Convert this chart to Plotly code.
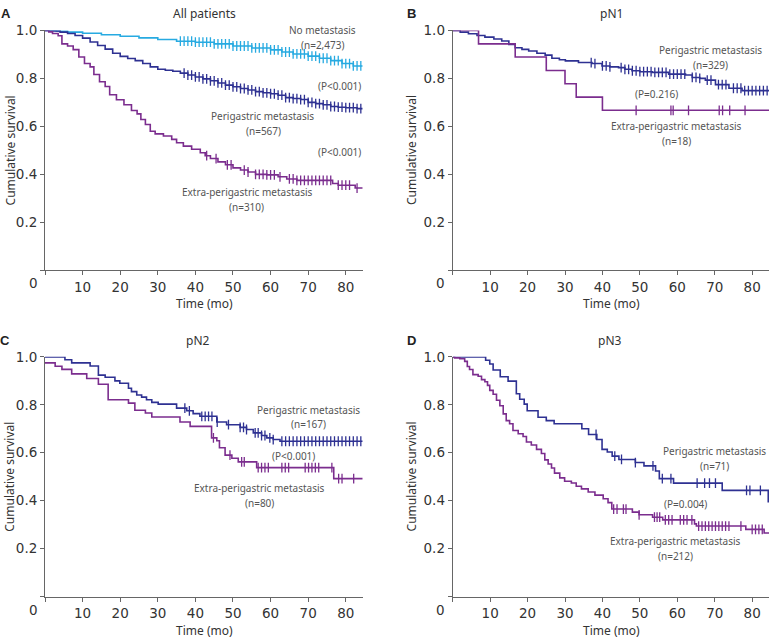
import numpy as np
import plotly.graph_objects as go

W, H = 771, 638
T_END = 84.5

CYAN = "#27AAE1"
NAVY = "#2E3192"
PURPLE = "#7B2D8E"

# ---------------- Panel A: All patients ----------------
A_none_t = [0, 3, 6, 10, 15, 20, 25, 30, 35, 40, 45, 50, 55, 60, 63, 66, 70, 73, 76, 79, 82]
A_none_s = [1.0, 0.997, 0.993, 0.988, 0.982, 0.976, 0.969, 0.962, 0.955, 0.951, 0.944, 0.935,
            0.927, 0.919, 0.91, 0.902, 0.893, 0.884, 0.874, 0.862, 0.852]
A_none_c = list(range(36, 85))

A_peri_t = [0, 2, 4, 6, 8, 10, 12, 14, 16, 18, 20, 22, 24, 26, 28, 30, 32, 34, 36, 38, 40, 42,
            44, 46, 48, 50, 52, 54, 56, 58, 60, 62, 64, 66, 68, 70, 72, 74, 76, 78, 80, 83]
A_peri_s = [1.0, 0.998, 0.993, 0.987, 0.979, 0.968, 0.952, 0.937, 0.922, 0.905, 0.892, 0.883,
            0.874, 0.862, 0.848, 0.838, 0.834, 0.83, 0.822, 0.814, 0.806, 0.798, 0.79, 0.781,
            0.772, 0.765, 0.758, 0.752, 0.745, 0.74, 0.736, 0.73, 0.72, 0.716, 0.712, 0.70,
            0.695, 0.69, 0.683, 0.68, 0.678, 0.674]
A_peri_c = list(range(37, 85))

A_extra_t = [0, 1, 2, 3.5, 4.5, 6, 7.5, 9, 10.5, 12, 13, 14.5, 16, 17.2, 19, 21, 23, 24.5, 25.5,
             26.7, 28, 29.3, 31.5, 33.7, 35, 36.8, 39, 41.3, 42.6, 44, 46, 48, 50, 52, 54, 56,
             59, 62, 64.3, 67, 76.5, 78, 82.5]
A_extra_s = [1.0, 0.994, 0.987, 0.978, 0.944, 0.935, 0.92, 0.889, 0.862, 0.848, 0.816, 0.786,
             0.766, 0.732, 0.711, 0.69, 0.666, 0.652, 0.629, 0.608, 0.58, 0.569, 0.56, 0.546,
             0.532, 0.518, 0.505, 0.49, 0.478, 0.466, 0.452, 0.44, 0.427, 0.418, 0.41, 0.40,
             0.398, 0.39, 0.381, 0.375, 0.362, 0.355, 0.343]
A_extra_c = [43, 45.5, 48.5, 49.5, 53, 54, 56, 57, 58, 59, 60, 61, 62.5, 65, 66, 67, 68, 69, 70,
             71, 72, 73, 74, 75, 76, 78, 79, 80, 81, 83]

# ---------------- Panel B: pN1 ----------------
B_peri_t = [0, 2, 4.2, 6.5, 8.6, 11, 13.1, 15, 16.7, 18.5, 20.3, 22.5, 24.7, 26.5, 28.5, 30.1,
            33.6, 37.2, 39.9, 42, 44.3, 46, 47.9, 50, 53.3, 57.7, 62.2, 64, 66, 67.5, 70.2,
            73.8, 77.3]
B_peri_s = [1.0, 0.993, 0.986, 0.979, 0.972, 0.964, 0.956, 0.942, 0.928, 0.921, 0.914, 0.905,
            0.897, 0.884, 0.878, 0.873, 0.866, 0.862, 0.852, 0.848, 0.845, 0.838, 0.832, 0.828,
            0.825, 0.818, 0.814, 0.804, 0.8, 0.793, 0.774, 0.759, 0.749]
B_peri_c = [37, 38, 40, 41, 42, 45, 46, 47, 48, 49, 50, 51, 52, 53, 54, 55, 56, 57, 58, 59, 60,
            61, 62, 64, 65, 66, 68, 69, 71, 72, 73, 75, 76, 77, 78, 79, 80, 81, 82, 83, 84]

B_extra_t = [0, 6.9, 16.7, 25, 30, 33, 40]
B_extra_s = [1.0, 0.944, 0.889, 0.833, 0.778, 0.722, 0.667]
B_extra_c = [49, 58.3, 58.9, 63, 71.2, 72.1, 74, 78.1]

# ---------------- Panel C: pN2 ----------------
C_peri_t = [0, 5.3, 7.1, 12, 14.2, 16, 18.6, 19.9, 22.2, 23, 24.4, 25.7, 27, 28.4, 30.1, 35,
            37.7, 39.4, 41.2, 45.7, 48.3, 51.9, 53.6, 55.4, 57.6, 59, 60.7, 62.5]
C_peri_s = [1.0, 0.988, 0.975, 0.962, 0.924, 0.915, 0.90, 0.89, 0.869, 0.855, 0.841, 0.832,
            0.821, 0.81, 0.803, 0.786, 0.775, 0.763, 0.752, 0.728, 0.717, 0.706, 0.697, 0.683,
            0.672, 0.662, 0.655, 0.648]
C_peri_c = [37.2, 38.4, 41.7, 42.6, 43.5, 44.4, 45.8, 48.8, 51.9, 52.8, 53.6, 55.9, 56.7, 57.6,
            58.5, 59.8, 60.7, 63, 64, 65, 66, 67, 68, 69, 70, 71, 72, 73, 74, 75, 76, 77, 78,
            79, 80, 81, 82, 83, 84]

C_extra_t = [0, 2.7, 4.5, 7.1, 11.1, 14.2, 16.8, 22.2, 23.9, 26.7, 28.4, 35.9, 38.6, 44.3,
             45.7, 46.4, 47.9, 49.7, 51.4, 56.3, 76.8]
C_extra_s = [0.975, 0.961, 0.948, 0.929, 0.91, 0.886, 0.821, 0.807, 0.777, 0.766, 0.749, 0.728,
             0.71, 0.662, 0.65, 0.621, 0.59, 0.577, 0.562, 0.538, 0.492]
C_extra_c = [44.8, 49.2, 52.3, 53.0, 56.7, 57.6, 58.5, 59.4, 63.0, 63.9, 64.8, 69.2, 70.1, 71.0,
             71.9, 72.8, 76.3, 78.1, 79.0, 82.1]

# ---------------- Panel D: pN3 ----------------
D_peri_t = [0, 8.8, 9.9, 10.8, 12.7, 14.8, 17, 17.9, 19.1, 19.9, 22.8, 25, 27.1, 34.5, 36.3,
            38.5, 39.9, 41.3, 42.6, 44.4, 48.8, 51.1, 54.2, 55.2, 59, 72, 84.3]
D_peri_s = [1.0, 0.986, 0.97, 0.945, 0.917, 0.899, 0.846, 0.823, 0.803, 0.775, 0.748, 0.734,
            0.721, 0.70, 0.676, 0.655, 0.614, 0.603, 0.586, 0.572, 0.559, 0.545, 0.524, 0.492,
            0.473, 0.443, 0.396]
D_peri_c = [38.3, 43.3, 45.1, 48.8, 53.5, 56, 58.3, 65.3, 67.3, 68.6, 70.2, 78.5, 79.4, 82.2]

D_extra_t = [0, 0.5, 1.9, 3.2, 3.9, 4.5, 5.4, 6.8, 7.7, 8.6, 9.3, 9.9, 10.8, 11.7, 12.6, 13.5,
             14.3, 15.2, 16.1, 17.5, 18.8, 19.7, 21, 22.4, 23.7, 24.6, 25.5, 26.4, 27.2, 28.6,
             29.9, 31.7, 33, 34.4, 36.2, 38, 40.2, 41.5, 42.5, 48, 49.8, 53.4, 56.1, 64.6,
             65.1, 78.3, 83.2]
D_extra_s = [1.0, 0.996, 0.992, 0.981, 0.96, 0.947, 0.926, 0.919, 0.905, 0.896, 0.881, 0.86,
             0.844, 0.819, 0.796, 0.762, 0.734, 0.721, 0.693, 0.679, 0.668, 0.645, 0.632,
             0.614, 0.597, 0.57, 0.553, 0.536, 0.515, 0.495, 0.481, 0.474, 0.46, 0.449, 0.436,
             0.423, 0.408, 0.392, 0.365, 0.352, 0.341, 0.331, 0.32, 0.303, 0.294, 0.28, 0.265]
D_extra_c = [43, 43.9, 45.6, 46.3, 49.8, 53.9, 54.6, 55.3, 56.8, 57.7, 58.6, 60.8, 61.7, 62.6,
             63.9, 65.7, 66.6, 67.5, 68.4, 69.3, 70.2, 71.1, 72, 72.9, 73.8, 77, 80, 80.9, 81.8,
             82.7]

Y_TICKS = [0, 0.2, 0.4, 0.6, 0.8, 1.0]
Y_TEXT = ["", "0.2", "0.4", "0.6", "0.8", "1.0"]
X_TICKS = [0, 10, 20, 30, 40, 50, 60, 70, 80]
X_TEXT = ["", "10", "20", "30", "40", "50", "60", "70", "80"]

fig = go.Figure()


def step_value(ts, ss, t):
    i = np.searchsorted(np.array(ts), t, side="right") - 1
    return ss[max(i, 0)]


def add_curve(ax, ts, ss, cs, color):
    xs = list(ts) + ([T_END] if ts[-1] < T_END else [])
    ys = list(ss) + ([ss[-1]] if ts[-1] < T_END else [])
    fig.add_trace(go.Scatter(x=xs, y=ys, mode="lines", line=dict(color=color, width=1.6, shape="hv"),
                             xaxis="x" + ax, yaxis="y" + ax, showlegend=False, hoverinfo="skip"))
    cy = [step_value(ts, ss, c) for c in cs]
    fig.add_trace(go.Scatter(x=cs, y=cy, mode="markers",
                             marker=dict(symbol="line-ns", size=7, line=dict(color=color, width=1.3)),
                             xaxis="x" + ax, yaxis="y" + ax, showlegend=False, hoverinfo="skip"))


panels = [
    ("", [(A_none_t, A_none_s, A_none_c, CYAN), (A_peri_t, A_peri_s, A_peri_c, NAVY),
          (A_extra_t, A_extra_s, A_extra_c, PURPLE)]),
    ("2", [(B_peri_t, B_peri_s, B_peri_c, NAVY), (B_extra_t, B_extra_s, B_extra_c, PURPLE)]),
    ("3", [(C_peri_t, C_peri_s, C_peri_c, NAVY), (C_extra_t, C_extra_s, C_extra_c, PURPLE)]),
    ("4", [(D_peri_t, D_peri_s, D_peri_c, NAVY), (D_extra_t, D_extra_s, D_extra_c, PURPLE)]),
]
for ax, curves in panels:
    for ts, ss, cs, col in curves:
        add_curve(ax, ts, ss, cs, col)


def px_x(x):
    return x / W


def px_y(y):
    return 1 - y / H


xdom = {"": [45, 362.7], "2": [452.7, 769], "3": [45, 362.7], "4": [452.7, 769]}
ydom = {"": [22.7, 265.7], "2": [22.7, 265.7], "3": [353.3, 596], "4": [353.3, 596]}

tickfont = dict(family="DejaVu Sans", size=13.5, color="#333333")
layout = dict(width=W, height=H, margin=dict(l=0, r=0, t=0, b=0),
              plot_bgcolor="white", paper_bgcolor="white", showlegend=False)
for ax in ["", "2", "3", "4"]:
    xd = xdom[ax]
    yd = ydom[ax]
    layout["xaxis" + ax] = dict(domain=[px_x(xd[0]), px_x(xd[1])], range=[0, T_END], anchor="y" + ax,
                                tickvals=X_TICKS, ticktext=X_TEXT, ticks="outside", ticklen=4,
                                tickcolor="#666666", showline=True, linecolor="#666666", linewidth=1,
                                showgrid=False, zeroline=False, tickfont=tickfont)
    layout["yaxis" + ax] = dict(domain=[px_y(yd[1]), px_y(yd[0])], range=[0, 1], anchor="x" + ax,
                                tickvals=Y_TICKS, ticktext=Y_TEXT, ticks="outside", ticklen=4,
                                tickcolor="#666666", showline=True, linecolor="#666666", linewidth=1,
                                showgrid=False, zeroline=False, tickfont=tickfont)
fig.update_layout(**layout)

ann_font = dict(family="Noto Sans", size=10, color="#555555")
notes = [
    ("No metastasis", 322.7, 22.7), ("(n=2,473)", 322.7, 37.7), ("(P<0.001)", 339.3, 79.3),
    ("Perigastric metastasis", 262.7, 109.3), ("(n=567)", 263.3, 125), ("(P<0.001)", 339.3, 146),
    ("Extra-perigastric metastasis", 247.3, 186), ("(n=310)", 246.7, 201.7),
    ("Perigastric metastasis", 710, 42.3), ("(n=329)", 710, 57.3), ("(P=0.216)", 656.7, 87.3),
    ("Extra-perigastric metastasis", 676.7, 119.3), ("(n=18)", 676.7, 135),
    ("Perigastric metastasis", 308.3, 406.7), ("(n=167)", 308.3, 421.7), ("(P<0.001)", 293.3, 454),
    ("Extra-perigastric metastasis", 259.3, 485.7), ("(n=80)", 259.3, 501.7),
    ("Perigastric metastasis", 714.3, 448.3), ("(n=71)", 714.3, 464), ("(P=0.004)", 685, 502.7),
    ("Extra-perigastric metastasis", 675.7, 540), ("(n=212)", 675.7, 555),
]
for txt, x, y in notes:
    fig.add_annotation(text=txt, x=px_x(x), y=px_y(y), xref="paper", yref="paper",
                       xanchor="center", yanchor="middle", showarrow=False, font=ann_font)

title_font = dict(family="Noto Sans", size=12, color="#333333")
for txt, x, y in [("All patients", 204, 6), ("pN1", 611.7, 6), ("pN2", 198, 336.7), ("pN3", 610.3, 336.7)]:
    fig.add_annotation(text=txt, x=px_x(x), y=px_y(y), xref="paper", yref="paper",
                       xanchor="center", yanchor="middle", showarrow=False, font=title_font)

letter_font = dict(family="Liberation Sans", size=13, color="#222222")
for txt, x, y in [("A", 6, 6), ("B", 411.7, 6), ("C", 5, 336.7), ("D", 411.7, 336.7)]:
    fig.add_annotation(text="<b>%s</b>" % txt, x=px_x(x), y=px_y(y), xref="paper", yref="paper",
                       xanchor="center", yanchor="middle", showarrow=False, font=letter_font)

lab_font = dict(family="Noto Sans", size=12, color="#333333")
for x, y in [(10, 144.2), (411.7, 144.2), (10, 474.7), (411.7, 474.7)]:
    fig.add_annotation(text="Cumulative survival", x=px_x(x), y=px_y(y), xref="paper", yref="paper",
                       xanchor="center", yanchor="middle", showarrow=False, textangle=-90, font=lab_font)
for x, y in [(204, 299.7), (611, 299.7), (204, 630), (611, 630)]:
    fig.add_annotation(text="Time (mo)", x=px_x(x), y=px_y(y), xref="paper", yref="paper",
                       xanchor="center", yanchor="middle", showarrow=False, font=lab_font)
for x, y in [(33, 278.3), (440, 278.3), (33, 610), (440, 610)]:
    fig.add_annotation(text="0", x=px_x(x), y=px_y(y), xref="paper", yref="paper",
                       xanchor="center", yanchor="middle", showarrow=False, font=tickfont)

fig.write_html("out.html", config={"displayModeBar": False},
               post_script="document.body.style.margin='0';document.body.style.overflow='hidden';")
